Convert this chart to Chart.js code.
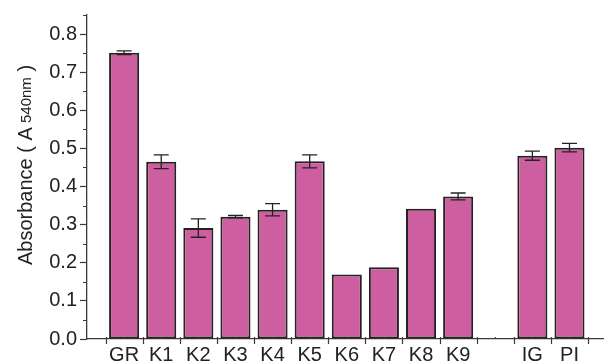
<!DOCTYPE html>
<html>
<head>
<meta charset="utf-8">
<script src="https://cdn.jsdelivr.net/npm/chart.js@4.4.1/dist/chart.umd.min.js"></script>
<style>
  html, body { margin: 0; padding: 0; background: #fff; }
  #wrap { width: 604px; height: 363px; position: relative; }
</style>
</head>
<body>
<div id="wrap"><canvas id="chart"></canvas></div>
<script>
// Sample groups along the x axis (blank slot separates the controls)
const categories = ['GR', 'K1', 'K2', 'K3', 'K4', 'K5', 'K6', 'K7', 'K8', 'K9', '', 'IG', 'PI'];
// Mean absorbance at 540 nm
const absorbance = [0.751, 0.465, 0.291, 0.321, 0.339, 0.466, 0.169, 0.188, 0.342, 0.374, null, 0.481, 0.502];
// Standard deviation for each group
const deviation = [0.005, 0.018, 0.024, 0.003, 0.016, 0.017, 0, 0, 0, 0.009, null, 0.012, 0.011];
// Labelled y-axis ticks
const yTickValues = [0.0, 0.1, 0.2, 0.3, 0.4, 0.5, 0.6, 0.7, 0.8];

const FONT = '"Liberation Sans", Arial, Helvetica, sans-serif';
const INK = '#262223';
const AXIS = '#3a3a3a';

const points = categories.map((c, i) => ({ x: i, y: absorbance[i] }))
  .filter(p => p.y !== null);

// Error bars, minor ticks and the axis title with a subscript
const decorations = {
  id: 'decorations',
  afterDatasetsDraw(chart) {
    const { ctx, scales: { x, y } } = chart;
    ctx.save();
    ctx.strokeStyle = INK;
    ctx.lineWidth = 1.3;
    const cap = 7.5;
    absorbance.forEach((v, i) => {
      const e = deviation[i];
      if (v === null || !e) return;
      const px = x.getPixelForValue(i);
      const top = y.getPixelForValue(v + e);
      const bot = y.getPixelForValue(v - e);
      ctx.beginPath();
      ctx.moveTo(px, top); ctx.lineTo(px, bot);
      ctx.moveTo(px - cap, top); ctx.lineTo(px + cap, top);
      ctx.moveTo(px - cap, bot); ctx.lineTo(px + cap, bot);
      ctx.stroke();
    });
    ctx.restore();
  },
  afterDraw(chart) {
    const { ctx, scales: { x, y }, chartArea } = chart;
    ctx.save();
    ctx.strokeStyle = AXIS;
    ctx.lineWidth = 1.2;
    const base = chartArea.bottom;
    // x axis: boundary ticks crossing the axis, small ticks at group centres
    ctx.beginPath();
    for (let i = 0; i <= categories.length; i++) {
      const px = Math.round(x.getPixelForValue(i - 0.5)) + 0.5;
      ctx.moveTo(px, base - 2); ctx.lineTo(px, base + 5);
    }
    for (let i = 0; i < categories.length; i++) {
      const px = Math.round(x.getPixelForValue(i)) + 0.5;
      ctx.moveTo(px, base - 2); ctx.lineTo(px, base);
    }
    // y axis minor ticks
    for (let v = 0.05; v < 0.9; v += 0.1) {
      const py = Math.round(y.getPixelForValue(v)) + 0.5;
      ctx.moveTo(chartArea.left - 4, py); ctx.lineTo(chartArea.left, py);
    }
    ctx.stroke();

    // y axis title
    ctx.fillStyle = '#222';
    ctx.translate(32, 165);
    ctx.rotate(-Math.PI / 2);
    ctx.textBaseline = 'alphabetic';
    ctx.textAlign = 'left';
    const main = '20px ' + FONT, sub = '15px ' + FONT;
    const parts = [
      { t: 'Absorbance ( A', f: main, dy: 0 },
      { t: ' 540nm', f: sub, dy: -1 },
      { t: ' )', f: main, dy: 0 }
    ];
    let total = 0;
    parts.forEach(p => { ctx.font = p.f; p.w = ctx.measureText(p.t).width; total += p.w; });
    let cx = -total / 2;
    parts.forEach(p => { ctx.font = p.f; ctx.fillText(p.t, cx, p.dy); cx += p.w; });
    ctx.restore();
  }
};

new Chart(document.getElementById('chart'), {
  type: 'bar',
  data: {
    datasets: [{
      data: points,
      backgroundColor: '#cd5fa1',
      borderColor: INK,
      borderWidth: 2,
      borderSkipped: false,
      barPercentage: 0.81,
      categoryPercentage: 1.0
    }]
  },
  options: {
    responsive: true,
    maintainAspectRatio: false,
    animation: false,
    layout: { padding: { top: 14, right: 0, bottom: 0, left: 0 } },
    plugins: { legend: { display: false }, tooltip: { enabled: false } },
    scales: {
      x: {
        type: 'linear',
        offset: false,
        min: -1,
        max: 12.93,
        afterBuildTicks(scale) {
          scale.ticks = categories.map((c, i) => ({ value: i }));
        },
        afterFit(scale) { scale.height = 24; },
        ticks: {
          autoSkip: false,
          maxRotation: 0,
          padding: 4,
          color: '#222',
          font: { family: FONT, size: 20 },
          callback: (v) => categories[v] ?? ''
        },
        grid: { display: true, drawOnChartArea: false, drawTicks: false },
        border: { display: true, color: AXIS, width: 1.3 }
      },
      y: {
        min: 0,
        max: 0.85,
        afterBuildTicks(scale) {
          scale.ticks = yTickValues.map(v => ({ value: v }));
        },
        afterFit(scale) { scale.width = 87; },
        ticks: {
          padding: 3,
          color: '#222',
          font: { family: FONT, size: 20 },
          callback: (v) => Number(v).toFixed(1)
        },
        grid: { drawOnChartArea: false, drawTicks: true, tickLength: 7, tickColor: AXIS, tickWidth: 1.2 },
        border: { display: true, color: AXIS, width: 1.3 }
      }
    }
  },
  plugins: [decorations]
});
</script>
</body>
</html>
